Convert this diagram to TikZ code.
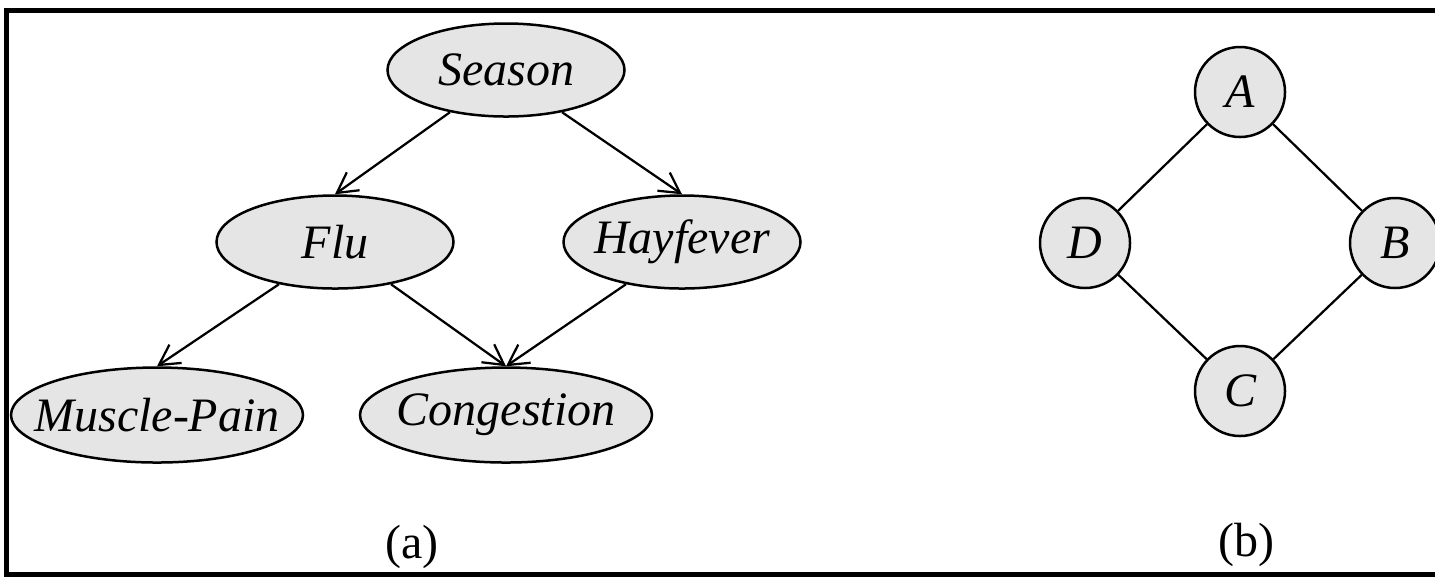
\documentclass[tikz,border=0pt]{standalone}
\usepackage{fontspec}
\setmainfont{Liberation Serif}
\usetikzlibrary{shapes.geometric}
\usetikzlibrary{arrows.meta}
\definecolor{nodegray}{gray}{0.9}

\begin{document}
\fontsize{9.6}{11.5}\selectfont
\begin{tikzpicture}[x=0.2pt,y=-0.2pt,
  var/.style={draw, ellipse, fill=nodegray, line width=0.5pt, inner sep=0pt,
    minimum width=47.4pt, minimum height=18.6pt, font=\itshape},
  bigvar/.style={var, minimum width=58.4pt, minimum height=19pt},
  mnode/.style={draw, circle, fill=nodegray, line width=0.5pt, inner sep=0pt,
    minimum size=18pt, font=\itshape},
  edge/.style={line width=0.45pt, -{Straight Barb[length=4pt,width=4.4pt]}}]

\useasboundingbox (0,0) rectangle (1435,576);
\draw[line width=1pt] (6.5,10) rectangle (1450,574);

% Nodes (a)
\node[var] (season) at (506,70) {\makebox[0pt]{Season}};
\node[var] (flu) at (335,242) {\makebox[0pt]{Flu}};
\node[var] (hay) at (682,242) {\makebox[0pt]{Hayfever}};
\node[bigvar] (pain) at (157,415) {\makebox[0pt]{Muscle-Pain}};
\node[bigvar] (cong) at (506,415) {\makebox[0pt]{Congestion}};

% Nodes (b)
\node[mnode] (a) at (1240,92) {A};
\node[mnode] (d) at (1085,243) {D};
\node[mnode] (b) at (1395,243) {B};
\node[mnode] (c) at (1240,391) {C};

% Captions
\node (capa) at (412,547) {(a)};
\node (capb) at (1246,545) {(b)};

% Edges
\draw[edge] (season.217) -- (flu.north);
\draw[edge] (season.323) -- (hay.north);
\draw[edge] (flu.217) -- (pain.north);
\draw[edge] (flu.323) -- (cong.north);
\draw[edge] (hay.217) -- (cong.north);

\draw[line width=0.45pt] (a) -- (d);
\draw[line width=0.45pt] (a) -- (b);
\draw[line width=0.45pt] (d) -- (c);
\draw[line width=0.45pt] (b) -- (c);

\end{tikzpicture}
\end{document}
